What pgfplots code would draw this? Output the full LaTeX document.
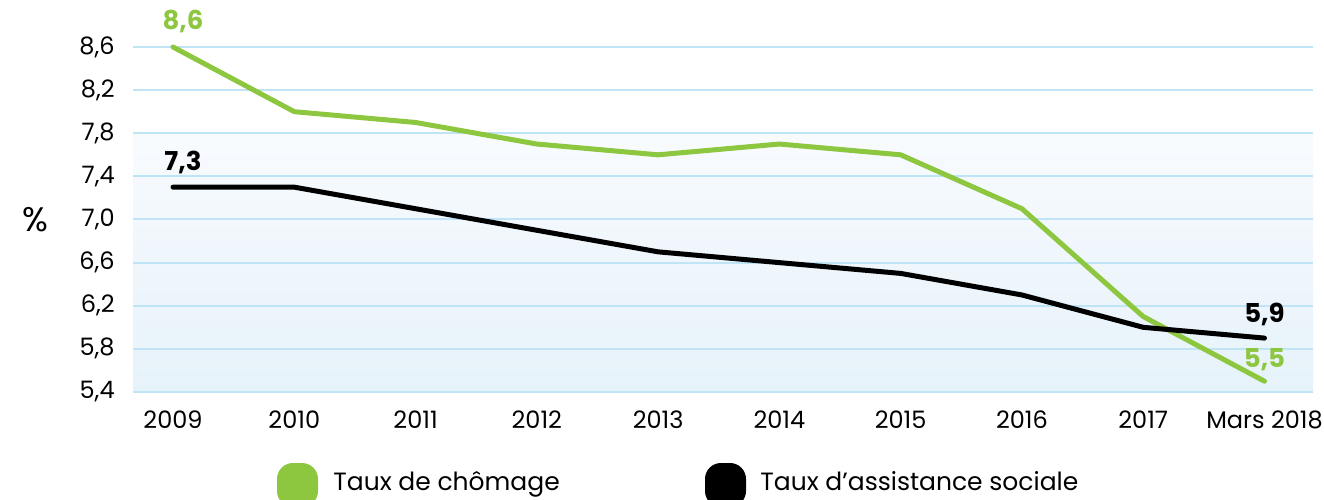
\documentclass[border=0pt]{standalone}
\usepackage{fontspec}
\setmainfont{Poppins}
\usepackage{pgfplots}
\pgfplotsset{compat=1.18}
\definecolor{vert}{RGB}{141,198,63}
\definecolor{grille}{RGB}{190,228,246}
\definecolor{fondhaut}{RGB}{248,251,254}
\definecolor{fondbas}{RGB}{230,242,250}
\begin{document}
\begin{tikzpicture}
\useasboundingbox (0pt,0pt) rectangle (662pt,249.5pt);
% background gradient (plot area below 7,8)
\fill[top color=fondhaut, bottom color=fondbas] (66.5pt,53.5pt) rectangle (656.5pt,182.875pt);
\begin{axis}[
  at={(66.5pt,53.5pt)}, anchor=south west,
  scale only axis, width=590pt, height=172.5pt,
  xmin=-0.33, xmax=9.4, ymin=5.4, ymax=8.6,
  clip=false,
  axis line style={draw=none}, tick style={draw=none},
  xtick={0,1,2,3,4,5,6,7,8,9},
  xticklabels={2009,2010,2011,2012,2013,2014,2015,2016,2017,Mars 2018},
  ytick={5.4,5.8,6.2,6.6,7.0,7.4,7.8,8.2,8.6},
  ymajorgrids, grid style={grille, line width=1pt},
  /pgf/number format/use comma,
  /pgf/number format/fixed,
  /pgf/number format/fixed zerofill,
  /pgf/number format/precision=1,
  /pgf/number format/assume math mode=true,
  ticklabel style={font=\fontsize{12}{14}\selectfont, inner sep=0pt},
  yticklabel style={xshift=-9pt},
  xticklabel style={yshift=-9pt},
  ylabel={\%},
  every axis y label/.style={at={(rel axis cs:-0.083,0.5)}, anchor=center, font=\fontsize{17}{19}\selectfont},
]
\addplot[vert, line width=2.5pt, line cap=round, line join=round] coordinates {
  (0,8.6) (1,8.0) (2,7.9) (3,7.7) (4,7.6) (5,7.7) (6,7.6) (7,7.1) (8,6.1) (9,5.5)};
\addplot[black, line width=2.5pt, line cap=round, line join=round] coordinates {
  (0,7.3) (1,7.3) (2,7.1) (3,6.9) (4,6.7) (5,6.6) (6,6.5) (7,6.3) (8,6.0) (9,5.9)};
\node[anchor=base, inner sep=0pt, text=vert, font=\fontsize{13}{15}\selectfont\bfseries, xshift=5pt, yshift=8.5pt] at (axis cs:0,8.6) {8,6};
\node[anchor=base, inner sep=0pt, text=black, font=\fontsize{13}{15}\selectfont\bfseries, xshift=5pt, yshift=8.5pt] at (axis cs:0,7.3) {7,3};
\node[anchor=base, inner sep=0pt, text=black, font=\fontsize{13}{15}\selectfont\bfseries, yshift=8pt] at (axis cs:9,5.9) {5,9};
\node[anchor=base, inner sep=0pt, text=vert, font=\fontsize{13}{15}\selectfont\bfseries, yshift=7pt] at (axis cs:9,5.5) {5,5};
\end{axis}
% legend
\begin{scope}
\clip (0pt,0pt) rectangle (662pt,249.5pt);
\fill[vert, rounded corners=8pt] (138.5pt,-4pt) rectangle (159pt,18pt);
\fill[black, rounded corners=8pt] (352.5pt,-4pt) rectangle (373pt,18pt);
\end{scope}
\node[anchor=base west, inner sep=0pt, font=\fontsize{12.5}{15}\selectfont] at (166.5pt,4.5pt) {Taux de chômage};
\node[anchor=base west, inner sep=0pt, font=\fontsize{12.5}{15}\selectfont] at (380pt,4.5pt) {Taux d’assistance sociale};
\end{tikzpicture}
\end{document}
